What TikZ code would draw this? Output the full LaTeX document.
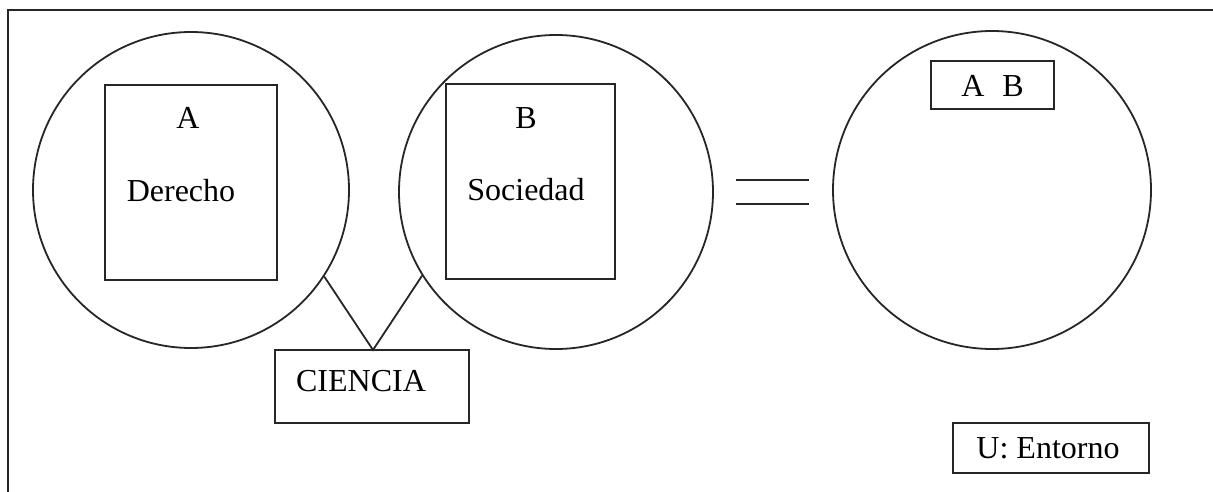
\documentclass[tikz,border=0pt]{standalone}
\usepackage{fontspec}
\setmainfont{Liberation Serif}
\begin{document}
\begin{tikzpicture}[x=1pt,y=-1pt,
  every node/.style={font=\fontsize{32}{38}\selectfont, inner sep=0pt},
  ln/.style={line width=1.8pt, draw=black!85},
  setc/.style={ln, circle, draw},
  box/.style={ln, rectangle, draw}]
\useasboundingbox[fill=white] (0,0) rectangle (1213,492);
% frame
\draw[ln] (8,492) -- (8,10) -- (1213,10);
% circles
\node[setc, minimum size=316pt] (c1) at (191,190) {};
\node[setc, minimum size=314pt] (c2) at (556,192) {};
\node[setc, minimum size=318pt] (c3) at (992,190) {};
% inner boxes
\node[box, minimum width=172pt, minimum height=195pt] (ra) at (191,182.5) {};
\node[box, minimum width=169pt, minimum height=195pt] (rb) at (530.5,181.5) {};
\node (la) at (188,118) {A};
\node (ld) at (181,191) {Derecho};
\node (lb) at (526,118) {B};
\node (ls) at (526,190) {Sociedad};
% union box
\node[box, minimum width=123pt, minimum height=48pt] (ab) at (992.5,85) {};
\node (abt) at (992.5,86) {A\hspace{18pt}B};
% ciencia
\node[box, minimum width=194pt, minimum height=73pt] (ci) at (372,386.5) {};
\node (cit) at (361,381) {CIENCIA};
\coordinate (v) at (373,350);
\draw[ln] (c1.-33.5) -- (v) -- (c2.212.5);
% equals sign
\coordinate (e1) at (736,180);
\coordinate (e2) at (809,180);
\coordinate (e3) at (736,204);
\coordinate (e4) at (809,204);
\draw[ln] (e1) -- (e2);
\draw[ln] (e3) -- (e4);
% universe
\node[box, minimum width=196pt, minimum height=50pt] (u) at (1051,448) {};
\node (ut) at (1048,448) {U: Entorno};
\end{tikzpicture}
\end{document}
